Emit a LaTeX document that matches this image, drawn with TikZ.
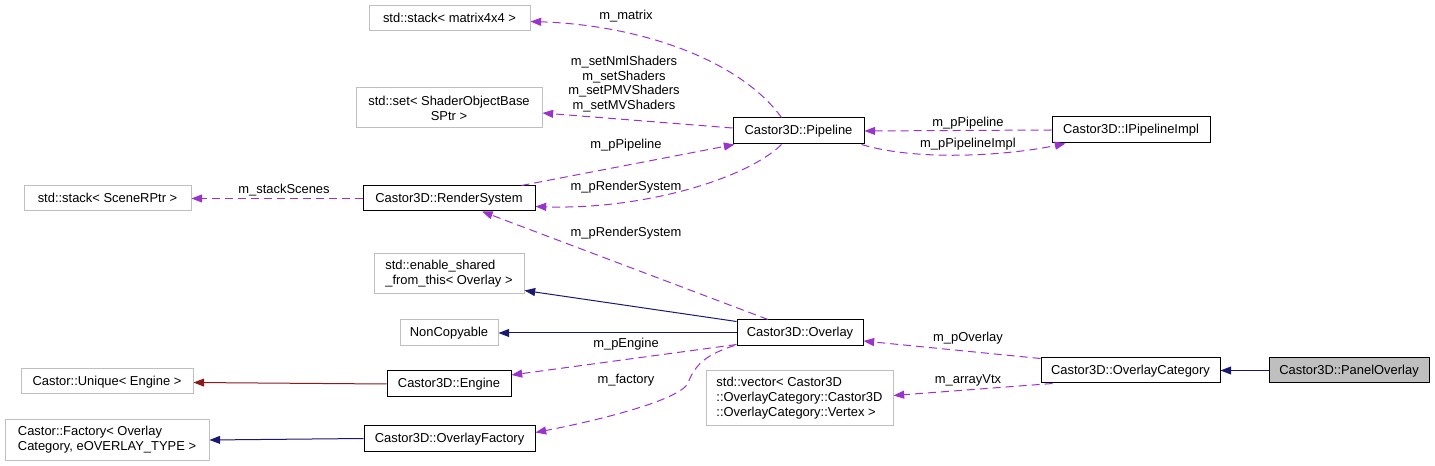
\documentclass[tikz,border=0pt]{standalone}
\usepackage{fontspec}
\setmainfont{Liberation Sans}
\usetikzlibrary{arrows.meta,calc}
\definecolor{depc}{HTML}{9A32CD}
\definecolor{inhc}{HTML}{191970}
\definecolor{privc}{HTML}{8B1A1A}
\definecolor{gbord}{HTML}{BFBFBF}
\begin{document}
\begin{tikzpicture}[x=0.75pt,y=-0.75pt,
  font=\fontsize{9.7}{11.3}\selectfont,
  sz/.style 2 args={minimum width={#1*0.75pt}, minimum height={#2*0.75pt}},
  one/.style={text height=7pt, text depth=1pt},
  cls/.style={draw=black, line width=0.75pt, inner sep=0pt, one},
  ext/.style={draw=gbord, line width=0.75pt, inner sep=0pt, one},
  extm/.style={draw=gbord, line width=0.75pt, inner sep=0pt, align=#1},
  cur/.style={draw=black, fill=gbord, line width=0.75pt, inner sep=0pt, one},
  lbl/.style={inner sep=0pt, align=center},
  tip/.style={-{Triangle[length=8pt,width=6pt]}},
  dep/.style={draw=depc, line width=0.75pt, dash pattern=on 6pt off 3.75pt, tip},
  inh/.style={draw=inhc, line width=0.75pt, tip},
  priv/.style={draw=privc, line width=0.75pt, tip}]
\useasboundingbox (0,0) rectangle (1435,466);
% nodes
\node[ext, sz={161}{25}] (mat) at (449.5,18.5) {std::stack< matrix4x4 >};
\node[extm=center, sz={186}{40}] (set) at (449,108) {std::set< ShaderObjectBase\\SPtr >};
\node[ext, sz={167}{25}] (stk) at (107.5,198.5) {std::stack< SceneRPtr >};
\node[cls, sz={172}{25}] (rs) at (449,198.5) {Castor3D::RenderSystem};
\node[cls, sz={131}{26}] (pipe) at (798.5,131) {Castor3D::Pipeline};
\node[cls, sz={158}{26}] (ipi) at (1131,130) {Castor3D::IPipelineImpl};
\node[extm=left, sz={150}{40}] (esh) at (449,274) {std::enable\_shared\\\_from\_this< Overlay >};
\node[ext, sz={98}{26}] (nc) at (449,333) {NonCopyable};
\node[cls, sz={126}{26}] (ovl) at (800,333) {Castor3D::Overlay};
\node[ext, sz={172}{25}] (unq) at (107,381.5) {Castor::Unique< Engine >};
\node[cls, sz={124}{26}] (eng) at (449,384) {Castor3D::Engine};
\node[extm=left, sz={204}{40}] (fac) at (107,440) {Castor::Factory< Overlay\\Category, eOVERLAY\_TYPE >};
\node[cls, sz={171}{25}] (ofa) at (449.5,438.5) {Castor3D::OverlayFactory};
\node[extm=left, sz={187}{55}] (vec) at (799.5,398.5) {std::vector< Castor3D\\::OverlayCategory::Castor3D\\::OverlayCategory::Vertex >};
\node[cls, sz={179}{25}] (oc) at (1130.5,370.5) {Castor3D::OverlayCategory};
\node[cur, sz={160}{25}] (pan) at (1349,370.5) {Castor3D::PanelOverlay};
% connectors
\draw[dep] ($(pipe.north)+(-17,0)$) .. controls (740,60) and (640,25) .. ($(mat.east)+(0,3)$);
\draw[dep] ($(pipe.west)+(0,-3)$) -- ($(set.east)+(0,5)$);
\draw[dep] ($(rs.north east)+(-14,0)$) -- ($(pipe.south west)+(2,0)$);
\draw[dep] ($(pipe.south)+(-17,0)$) .. controls (745,180) and (640,210) .. ($(rs.east)+(0,8)$);
\draw[dep] (ipi.west) -- (pipe.east);
\draw[dep] ($(pipe.south east)+(-3,0)$) .. controls (920,162) and (1010,155) .. ($(ipi.south west)+(14,0)$);
\draw[dep] (rs.west) -- (stk.east);
\draw[dep] ($(ovl.north)+(-32,0)$) -- ($(rs.south)+(33,0)$);
\draw[inh] ($(ovl.north west)+(0,2)$) -- ($(esh.south east)+(0,-4)$);
\draw[inh] (ovl.west) -- (nc.east);
\draw[dep] ($(ovl.south west)+(0,-2)$) -- ($(eng.east)+(0,-9)$);
\draw[dep] ($(ovl.south west)+(-2,-1)$) .. controls (705,355) and (695,365) .. (688,383)
  .. controls (680,400) and (600,420) .. ($(ofa.east)+(0,-6)$);
\draw[priv] (eng.west) -- ($(unq.east)+(0,1)$);
\draw[inh] (ofa.west) -- (fac.east);
\draw[dep] ($(oc.north west)+(0,1)$) -- ($(ovl.east)+(0,8)$);
\draw[dep] ($(oc.south west)+(12,0)$) -- ($(vec.east)+(0,-3)$);
\draw[inh] (pan.west) -- (oc.east);
% labels
\node[lbl] (l1) at (626,16) {m\_matrix};
\node[lbl, font=\fontsize{9.7}{10.9}\selectfont] (l2) at (624,84) {m\_setNmlShaders\\m\_setShaders\\m\_setPMVShaders\\m\_setMVShaders};
\node[lbl] (l3) at (626,145) {m\_pPipeline};
\node[lbl] (l4) at (626,187) {m\_pRenderSystem};
\node[lbl] (l5) at (968,123) {m\_pPipeline};
\node[lbl] (l6) at (968,144) {m\_pPipelineImpl};
\node[lbl] (l7) at (284,190) {m\_stackScenes};
\node[lbl] (l8) at (626,233) {m\_pRenderSystem};
\node[lbl] (l9) at (626,344) {m\_pEngine};
\node[lbl] (l10) at (626,380) {m\_factory};
\node[lbl] (l11) at (968,338) {m\_pOverlay};
\node[lbl] (l12) at (968,380) {m\_arrayVtx};
\end{tikzpicture}
\end{document}
